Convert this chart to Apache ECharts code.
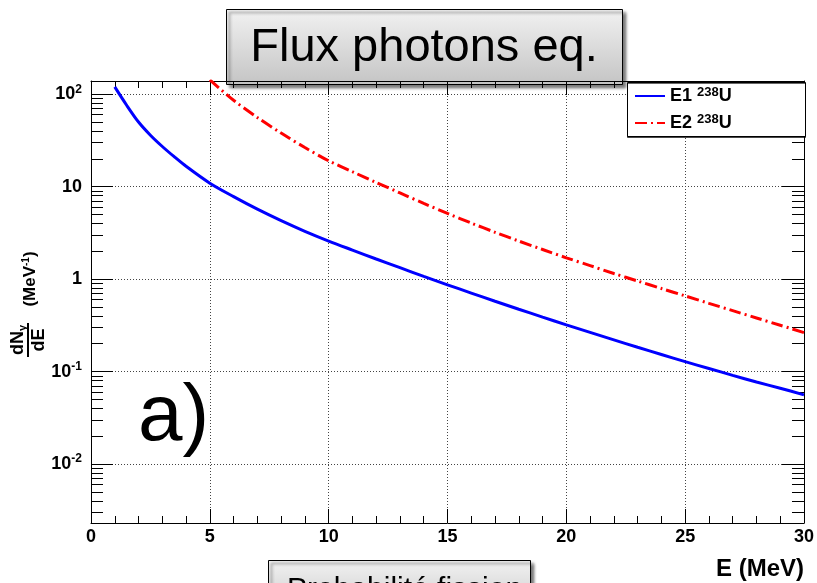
<!DOCTYPE html>
<html>
<head>
<meta charset="utf-8">
<script src="https://cdn.jsdelivr.net/npm/echarts@6/dist/echarts.min.js"></script>
<style>
  html, body { margin: 0; padding: 0; background: #fff; }
  #chart { width: 817px; height: 583px; }
</style>
</head>
<body>
<div id="chart"></div>
<script>
// photon energy (MeV)
const energy = [1, 1.5, 2, 2.5, 3, 3.5, 4, 5, 6, 7, 8, 9, 10, 11, 12, 13, 14, 15,
  16, 17, 18, 19, 20, 21, 22, 23, 24, 25, 26, 27, 28, 29, 30]
// E1 238U, dN/dE
const fluxE1 = [120, 76, 50, 36, 27.2, 21.1, 16.6, 10.9, 7.8, 5.71, 4.29, 3.29, 2.58,
  2.06, 1.65, 1.33, 1.07, 0.868, 0.706, 0.576, 0.472, 0.388, 0.32, 0.265, 0.22, 0.183,
  0.153, 0.128, 0.108, 0.091, 0.077, 0.066, 0.056]
// E2 238U, dN/dE (starts above the frame at 5 MeV)
const fluxE2 = [null, null, null, null, null, null, null, 143, 86, 56, 38, 26.5, 19.05,
  14.5, 11.1, 8.55, 6.6, 5.13, 4.04, 3.21, 2.58, 2.09, 1.7, 1.4, 1.15, 0.953, 0.791,
  0.658, 0.547, 0.456, 0.38, 0.317, 0.264]

const yMin = 0.0023
const yMax = 139
const decades = [0.001, 0.01, 0.1, 1, 10, 100]
const minorMult = [2, 3, 4, 5, 6, 7, 8, 9]
const yLabels = { "-2": "{b|10}{s|-2}", "-1": "{b|10}{s|-1}", "0": "{b|1}", "1": "{b|10}", "2": "{b|10}{s|2}" }

let minorTicks = []
decades.forEach(d => minorMult.forEach(m => {
  const v = +(m * d).toPrecision(3)
  if (v > yMin && v < yMax) minorTicks.push(v)
}))
const majorTicks = decades.filter(d => d >= yMin && d <= yMax)

const chart = echarts.init(document.getElementById("chart"))
const font = "Liberation Sans"
const frame = { show: true, onZero: false, lineStyle: { color: "#000", width: 1 } }
const dotted = { show: true, lineStyle: { color: "#444", type: [1, 2], width: 1 } }
const tickRich = {
  b: { fontFamily: font, fontWeight: "bold", fontSize: 18, color: "#000", lineHeight: 22 },
  s: { fontFamily: font, fontWeight: "bold", fontSize: 12, color: "#000", lineHeight: 12, verticalAlign: "top" }
}

function yAxisMajor(pos, labels) {
  return {
    type: "log", logBase: 10, min: yMin, max: yMax, position: pos,
    axisLine: frame,
    axisTick: { show: true, inside: true, length: 22, customValues: majorTicks, lineStyle: { color: "#000" } },
    axisLabel: {
      show: labels, margin: 9, customValues: majorTicks, rich: tickRich,
      formatter: v => yLabels[String(Math.round(Math.log10(v)))] || ""
    },
    splitLine: labels ? dotted : { show: false }
  }
}
function yAxisMinor(pos) {
  return {
    type: "log", logBase: 10, min: yMin, max: yMax, position: pos,
    axisLine: { show: false, onZero: false },
    axisTick: { show: true, inside: true, length: 12, customValues: minorTicks, lineStyle: { color: "#000" } },
    axisLabel: { show: false },
    splitLine: { show: false }
  }
}

function boxStyle() {
  return {
    fill: new echarts.graphic.LinearGradient(0, 0, 0, 1, [
      { offset: 0, color: "#f2f2f2" }, { offset: 1, color: "#c4c4c4" }
    ]),
    stroke: "#000", lineWidth: 1,
    shadowBlur: 3, shadowOffsetX: 3, shadowOffsetY: 3, shadowColor: "rgba(0,0,0,0.55)"
  }
}

chart.setOption({
  animation: false,
  grid: { left: 91, right: 11, top: 81, bottom: 60, containLabel: false },
  xAxis: [
    {
      type: "value", min: 0, max: 30, interval: 5, position: "bottom",
      axisLine: frame,
      axisTick: { show: true, inside: true, length: 14, lineStyle: { color: "#000" } },
      minorTick: { show: true, splitNumber: 5, length: 7, lineStyle: { color: "#000" } },
      axisLabel: { margin: 5, fontFamily: font, fontWeight: "bold", fontSize: 18, color: "#000" },
      splitLine: dotted,
      name: "E (MeV)", nameLocation: "end", nameGap: 0,
      nameTextStyle: {
        fontFamily: font, fontWeight: "bold", fontSize: 24, color: "#000",
        align: "right", verticalAlign: "top", padding: [34, 0, 0, 0]
      }
    },
    {
      type: "value", min: 0, max: 30, interval: 5, position: "top",
      axisLine: frame,
      axisTick: { show: true, inside: true, length: 14, lineStyle: { color: "#000" } },
      minorTick: { show: true, splitNumber: 5, length: 7, lineStyle: { color: "#000" } },
      axisLabel: { show: false },
      splitLine: { show: false }
    }
  ],
  yAxis: [yAxisMajor("left", true), yAxisMajor("right", false), yAxisMinor("left"), yAxisMinor("right")],
  legend: {
    orient: "vertical", left: 634, top: 86, padding: 0, itemGap: 8, z: 20,
    itemWidth: 30, itemHeight: 14, data: ["E1", "E2"],
    itemStyle: { opacity: 0 },
    formatter: name => "{m|" + name + " }{s|238}{m|U}",
    textStyle: {
      rich: {
        m: { fontFamily: font, fontWeight: "bold", fontSize: 18, color: "#000", lineHeight: 20 },
        s: { fontFamily: font, fontWeight: "bold", fontSize: 13, color: "#000", lineHeight: 12, verticalAlign: "top" }
      }
    }
  },
  series: [
    {
      name: "E1", type: "line", symbol: "none", smooth: 0.3, clip: true,
      lineStyle: { color: "#0000ff", width: 3 }, itemStyle: { color: "#0000ff" },
      data: energy.map((e, i) => [e, fluxE1[i]])
    },
    {
      name: "E2", type: "line", symbol: "none", smooth: 0.3, clip: true,
      lineStyle: { color: "#ff0000", width: 3, type: [12, 4, 2, 4] }, itemStyle: { color: "#ff0000" },
      data: energy.map((e, i) => [e, fluxE2[i]]).filter(p => p[1] !== null)
    }
  ],
  graphic: [
    {
      type: "rect", z: 10, shape: { x: 627.5, y: 82.5, width: 178, height: 54 },
      style: { fill: "#fff", stroke: "#000", lineWidth: 1, shadowOffsetY: 1, shadowColor: "rgba(0,0,0,0.6)" },
      silent: true
    },
    {
      type: "group", z: 100,
      children: [
        { type: "rect", shape: { x: 226.5, y: 9.5, width: 396, height: 75 }, style: boxStyle() },
        {
          type: "text", x: 424, y: 48,
          style: { text: "Flux photons eq.", fontFamily: font, fontSize: 47, fill: "#000", align: "center", verticalAlign: "middle" }
        },
        { type: "rect", shape: { x: 268.5, y: 560.5, width: 262, height: 60 }, style: boxStyle() },
        {
          type: "text", x: 287, y: 575,
          style: { text: "Probabilité fission", fontFamily: font, fontSize: 30, fill: "#000", align: "left", verticalAlign: "top" }
        }
      ]
    },
    {
      type: "text", z: 60, x: 138, y: 458,
      style: { text: "a)", fontFamily: font, fontSize: 80, fill: "#000", align: "left", verticalAlign: "bottom" }
    },
    {
      type: "group", z: 60, x: 29, y: 290, rotation: Math.PI / 2,
      children: [
        {
          type: "text", x: -50, y: -11,
          style: {
            text: "{a|dN}{g|γ}", align: "center", verticalAlign: "middle",
            rich: {
              a: { fontFamily: font, fontWeight: "bold", fontSize: 18, fill: "#000", lineHeight: 20 },
              g: { fontFamily: font, fontWeight: "bold", fontSize: 11, fill: "#000", lineHeight: 11, verticalAlign: "bottom" }
            }
          }
        },
        { type: "line", shape: { x1: -67, y1: -1, x2: -33, y2: -1 }, style: { stroke: "#000", lineWidth: 2 } },
        {
          type: "text", x: -50, y: 10,
          style: { text: "dE", fontFamily: font, fontWeight: "bold", fontSize: 18, fill: "#000", align: "center", verticalAlign: "middle" }
        },
        {
          type: "text", x: 11, y: 1,
          style: {
            text: "{a|(MeV}{s|-1}{a|)}", align: "center", verticalAlign: "middle",
            rich: {
              a: { fontFamily: font, fontWeight: "bold", fontSize: 17, fill: "#000", lineHeight: 18 },
              s: { fontFamily: font, fontWeight: "bold", fontSize: 10, fill: "#000", lineHeight: 10, verticalAlign: "top" }
            }
          }
        }
      ]
    }
  ]
})
</script>
</body>
</html>
